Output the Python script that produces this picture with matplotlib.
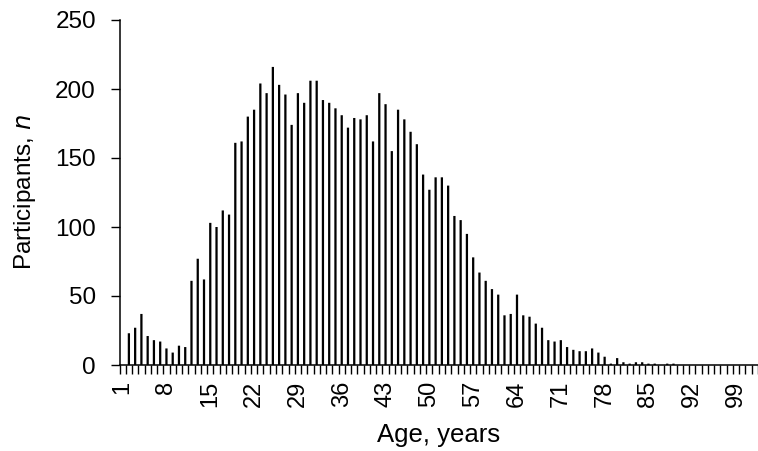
import matplotlib
matplotlib.use("Agg")
import matplotlib.pyplot as plt
import numpy as np

ages = list(range(1, 103))
participants = [
    0, 23, 27, 37, 21, 18, 17, 12, 9, 14,          # 1-10
    13, 61, 77, 62, 103, 100, 112, 109, 161, 162,  # 11-20
    180, 185, 204, 197, 216, 203, 196, 174, 197, 190,  # 21-30
    206, 206, 192, 190, 186, 181, 172, 179, 178, 181,  # 31-40
    162, 197, 189, 155, 185, 178, 169, 160, 138, 127,  # 41-50
    136, 136, 130, 108, 105, 95, 78, 67, 61, 55,   # 51-60
    51, 36, 37, 51, 36, 35, 30, 27, 18, 17,        # 61-70
    18, 13, 11, 10, 10, 12, 9, 6, 1, 5,           # 71-80
    2, 1, 2, 2, 1, 1, 0, 1, 1, 0,                 # 81-90
    0, 0, 0, 0, 0, 0, 0, 0, 0, 0,                 # 91-100
    0, 0,                                         # 101-102
]
label_ages = list(range(1, 103, 7))
y_ticks = [0, 50, 100, 150, 200, 250]

plt.rcParams['font.family'] = ['Liberation Sans', 'DejaVu Sans']

fig = plt.figure(figsize=(7.58, 4.51), dpi=100)
ax = fig.add_axes([119.5 / 758, 86 / 451, 1 - 119.5 / 758, 345 / 451])

x = np.arange(len(ages))
bars = ax.bar(x, participants, width=0.36, color='black', edgecolor='none')
for b in bars:
    b.set_snap(False)

ax.set_xlim(-0.5, len(ages) - 0.5)
ax.set_ylim(0, 250)
ax.set_yticks(y_ticks)
ax.set_yticklabels([str(v) for v in y_ticks], fontsize=17.5)

# tick marks at category boundaries, labels at category centres
ax.set_xticks(np.arange(len(ages) + 1) - 0.5)
ax.set_xticklabels([])
ax.set_xticks([ages.index(a) for a in label_ages], minor=True)
ax.set_xticklabels([str(a) for a in label_ages], minor=True, rotation=90, fontsize=17)
ax.tick_params(axis='x', which='major', length=6.5, width=1.0, direction='out', color='black')
ax.tick_params(axis='x', which='minor', length=0, pad=11.5)
ax.tick_params(axis='y', length=6.5, width=1.0, direction='out', pad=10.5, color='black')

for s in ['top', 'right']:
    ax.spines[s].set_visible(False)
for s in ['left', 'bottom']:
    ax.spines[s].set_linewidth(1.1)
    ax.spines[s].set_color('black')

ax.set_ylabel('Participants, $\\it{n}$', fontsize=17.5, labelpad=12.5)
ax.set_xlabel('Age, years', fontsize=18.5, labelpad=11)

fig.savefig('out.png', dpi=100)
